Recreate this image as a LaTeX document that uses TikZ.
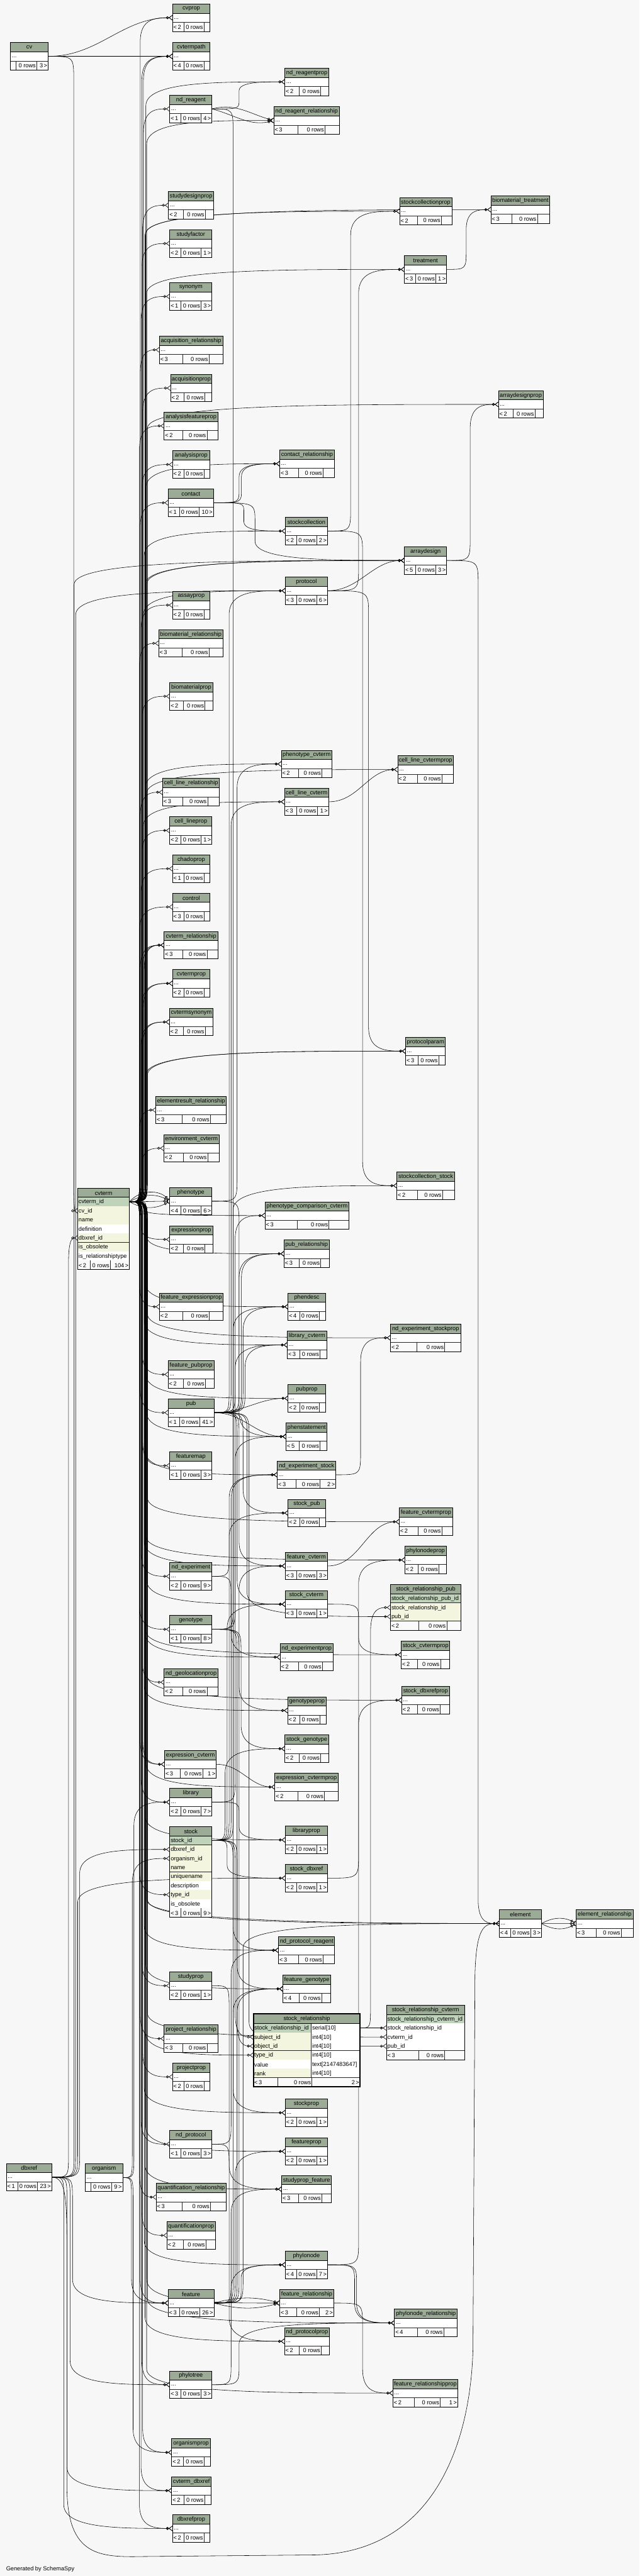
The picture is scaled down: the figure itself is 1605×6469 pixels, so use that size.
\documentclass[tikz,border=0pt]{standalone}
\usepackage{fontspec}
\setmainfont{Liberation Sans}
\usetikzlibrary{arrows.meta,calc}
\pgfdeclarelayer{bgl}
\pgfdeclarelayer{edges}
\pgfsetlayers{bgl,edges,main}
\definecolor{bgc}{HTML}{F7F7F7}
\definecolor{hdrc}{HTML}{9BAB96}
\definecolor{pkc}{HTML}{BFD2BA}
\definecolor{fkc}{HTML}{F3F5DE}
\definecolor{ftc}{HTML}{FAFAFA}
\tikzset{
  fk/.style={draw=black,line width=0.45pt,
    -{Circle[open,length=3.4pt,width=3.4pt,line width=0.5pt]Straight Barb[reversed,length=4pt,width=6pt,line width=0.5pt]}},
  tbox/.style={draw=black,line width=0.65pt},
  cellline/.style={draw=black!85,line width=0.45pt},
  hdrline/.style={draw=black,line width=0.5pt},
  ttl/.style={font=\fontsize{7.3}{8.5}\selectfont,inner sep=0pt},
  ftxt/.style={font=\fontsize{7.3}{8.5}\selectfont,inner sep=0pt},
  dots/.style={font=\fontsize{7.3}{8.5}\selectfont,inner sep=0pt,anchor=west},
}
% standard table: id, label, x1, y1, x2, parents, children
\newcommand\tb[7]{%
  \pgfmathsetmacro\tbW{#5-#3}%
  \if\relax\detokenize{#6}\relax\def\tbLb{12}\else\def\tbLb{28}\fi
  \if\relax\detokenize{#7}\relax\def\tbRb{15}\else\pgfmathsetmacro\tbRb{(#7<10)?27:((#7<100)?36:48)}\fi
  \pgfmathsetmacro\tbE{\tbW-\tbLb-50-\tbRb}%
  \pgfmathsetmacro\tbA{#3+\tbLb+0.45*\tbE}%
  \pgfmathsetmacro\tbB{\tbA+50+0.25*\tbE}%
  \fill[white] (#3,#4) rectangle (#5,#4+46);
  \fill[ftc] (#3,#4+46) rectangle (#5,#4+69);
  \fill[hdrc] (#3,#4) rectangle (#5,#4+23);
  \node[ttl] (#1) at ({(#3+#5)/2},#4+12) {#2};
  \node[dots] at (#3+3,#4+37) {...};
  \draw[cellline] (#3,#4+46) -- (#5,#4+46) (\tbA,#4+46) -- (\tbA,#4+69) (\tbB,#4+46) -- (\tbB,#4+69);
  \draw[hdrline] (#3,#4+23) -- (#5,#4+23);
  \draw[tbox] (#3,#4) rectangle (#5,#4+69);
  \if\relax\detokenize{#6}\relax\else\node[ftxt,anchor=west] at (#3+2,#4+58) {<\,#6};\fi
  \node[ftxt,anchor=east] at (\tbB-2,#4+58) {0 rows};
  \if\relax\detokenize{#7}\relax\else\node[ftxt,anchor=east] at (#5-2,#4+58) {#7\,>};\fi
  \coordinate (#1-w) at (#3,#4+34.5);
  \coordinate (#1-e) at (#5,#4+34.5);
}
% row of a detailed table: x1 x2 ytop ybot fill text
\newcommand\mcell[6]{%
  \fill[#5] (#1,#3) rectangle (#2,#4);
  \draw[cellline] (#1,#4) -- (#2,#4);
  \node[ftxt,anchor=west] at (#1+2,{(#3+#4)/2+1}) {#6};}
% header of a detailed table: id label x1 x2 ytop ybot
\newcommand\mhead[6]{%
  \fill[hdrc] (#3,#5) rectangle (#4,#6);
  \node[ttl] (#1) at ({(#3+#4)/2},{(#5+#6)/2+1}) {#2};}
% footer: x1 xa xb x2 ytop ybot parents children
\newcommand\mfoot[8]{%
  \fill[ftc] (#1,#5) rectangle (#4,#6);
  \draw[cellline] (#2,#5) -- (#2,#6) (#3,#5) -- (#3,#6);
  \node[ftxt,anchor=west] at (#1+2,{(#5+#6)/2+1}) {<\,#7};
  \node[ftxt,anchor=east] at (#3-2,{(#5+#6)/2+1}) {0 rows};
  \if\relax\detokenize{#8}\relax\else\node[ftxt,anchor=east] at (#4-2,{(#5+#6)/2+1}) {#8\,>};\fi}
% connector routed through a vertical channel at x = #1
\newcommand\fk[3]{%
  \draw[fk] let \p1=(#2), \p2=(#3), \n1={#1*0.5pt}, \n2={(\y2>\y1)*2-1}, \n3={min(30pt,abs(\y2-\y1)/3)} in
  (\p1) .. controls (\n1,\y1) .. (\n1,{\y1+(\n2)*\n3}) -- (\n1,{\y2-(\n2)*\n3})
  .. controls (\n1,\y2) and ({\n1+0.5*(\x2-\n1)},\y2) .. (\p2);}
\newcommand\fkd[2]{\draw[fk] (#1) to[out=0,in=180] (#2);}

\begin{document}
\begin{tikzpicture}[x=0.5pt,y=-0.5pt]
\begin{pgfonlayer}{bgl}
\fill[bgc] (0,0) rectangle (1605,6469);
\end{pgfonlayer}
\useasboundingbox (0,0) rectangle (1605,6469);

% ---------------- rank 0/1
\tb{cv}{cv}{26}{107}{121}{}{3}
\tb{dbxref}{dbxref}{16}{5433}{130}{1}{23}
\tb{organism}{organism}{214}{5434}{308}{}{9}
% cvterm
\fill[white] (195,2983.8) rectangle (325,3188.3);
\mhead{cvterm}{cvterm}{195}{325}{2983.8}{3006.5}
\mcell{195}{325}{3006.5}{3029.2}{pkc}{cvterm\_id}
\mcell{195}{325}{3029.2}{3052.0}{fkc}{cv\_id}
\mcell{195}{325}{3052.0}{3074.7}{fkc}{name}
\mcell{195}{325}{3074.7}{3097.4}{white}{definition}
\mcell{195}{325}{3097.4}{3120.1}{fkc}{dbxref\_id}
\mcell{195}{325}{3120.1}{3142.8}{fkc}{is\_obsolete}
\mcell{195}{325}{3142.8}{3165.6}{white}{is\_relationshiptype}
\mfoot{195}{226}{277}{325}{3165.6}{3188.3}{2}{104}
\draw[hdrline] (195,3006.5) -- (325,3006.5);
\draw[tbox] (195,2983.8) rectangle (325,3188.3);
\coordinate (cvterm-e) at (325,3017.85);
\coordinate (cvterm-cvid) at (195,3040.6);
\coordinate (cvterm-dbx) at (195,3108.75);

% ---------------- rank 2
\tb{cvprop}{cvprop}{433}{10}{527}{2}{}
\tb{cvtermpath}{cvtermpath}{433}{107}{527}{4}{}
\tb{ndreagent}{nd\_reagent}{426}{239}{532}{1}{4}
\tb{studydesignprop}{studydesignprop}{423}{481}{536}{2}{}
\tb{studyfactor}{studyfactor}{426}{577}{532}{2}{1}
\tb{synonym}{synonym}{426}{710}{532}{1}{3}
\tb{acquisitionrel}{acquisition\_relationship}{400}{844}{559}{3}{}
\tb{acquisitionprop}{acquisitionprop}{428}{940}{532}{2}{}
\tb{analysisfeatureprop}{analysisfeatureprop}{412}{1035}{547}{2}{}
\tb{analysisprop}{analysisprop}{433}{1132}{527}{2}{}
\tb{contact}{contact}{422}{1228}{536}{1}{10}
\tb{assayprop}{assayprop}{433}{1485}{527}{2}{}
\tb{biomaterialrel}{biomaterial\_relationship}{398}{1581}{560}{3}{}
\tb{biomaterialprop}{biomaterialprop}{426}{1714}{534}{2}{}
\tb{celllinerel}{cell\_line\_relationship}{408}{1955}{551}{3}{}
\tb{celllineprop}{cell\_lineprop}{426}{2051}{532}{2}{1}
\tb{chadoprop}{chadoprop}{433}{2147}{527}{1}{}
\tb{control}{control}{433}{2243}{527}{3}{}
\tb{cvtermrel}{cvterm\_relationship}{412}{2339}{547}{3}{}
\tb{cvtermprop}{cvtermprop}{433}{2435}{527}{2}{}
\tb{cvtermsynonym}{cvtermsynonym}{425}{2532}{535}{2}{}
\tb{elementresultrel}{elementresult\_relationship}{391}{2753}{568}{3}{}
\tb{envcvterm}{environment\_cvterm}{411}{2849}{550}{2}{}
\tb{phenotype}{phenotype}{426}{2982}{532}{4}{6}
\tb{expressionprop}{expressionprop}{426}{3078}{534}{2}{}
\tb{featexpprop}{feature\_expressionprop}{400}{3247}{560}{2}{}
\tb{featpubprop}{feature\_pubprop}{422}{3417}{537}{2}{}
\tb{pub}{pub}{422}{3513}{537}{1}{41}
\tb{featuremap}{featuremap}{426}{3646}{532}{1}{3}
\tb{ndexperiment}{nd\_experiment}{426}{3924}{532}{2}{9}
\tb{genotype}{genotype}{426}{4057}{532}{1}{8}
\tb{ndgeolocprop}{nd\_geolocationprop}{412}{4190}{547}{2}{}
\tb{expressioncvterm}{expression\_cvterm}{413}{4396}{543}{3}{1}
\tb{library}{library}{426}{4491}{532}{2}{7}
% stock
\fill[white] (426,4587.6) rectangle (532,4814.7);
\mhead{stock}{stock}{426}{532}{4587.6}{4610.3}
\mcell{426}{532}{4610.3}{4633.0}{pkc}{stock\_id}
\mcell{426}{532}{4633.0}{4655.7}{fkc}{dbxref\_id}
\mcell{426}{532}{4655.7}{4678.4}{fkc}{organism\_id}
\mcell{426}{532}{4678.4}{4701.2}{fkc}{name}
\mcell{426}{532}{4701.2}{4723.9}{fkc}{uniquename}
\mcell{426}{532}{4723.9}{4746.6}{white}{description}
\mcell{426}{532}{4746.6}{4769.3}{fkc}{type\_id}
\mcell{426}{532}{4769.3}{4792.0}{white}{is\_obsolete}
\mfoot{426}{454}{505}{532}{4792.0}{4814.7}{3}{9}
\draw[hdrline] (426,4610.3) -- (532,4610.3);
\draw[tbox] (426,4587.6) rectangle (532,4814.7);
\coordinate (stock-e) at (532,4621.65);
\coordinate (stock-dbx) at (426,4644.35);
\coordinate (stock-org) at (426,4667.05);
\coordinate (stock-type) at (426,4757.95);
\tb{studyprop}{studyprop}{426}{4952}{532}{2}{1}
\tb{projectrel}{project\_relationship}{412}{5085}{547}{3}{}
\tb{projectprop}{projectprop}{433}{5181}{527}{2}{}
\tb{ndprotocol}{nd\_protocol}{426}{5350}{532}{1}{3}
\tb{quantrel}{quantification\_relationship}{392}{5483}{568}{3}{}
\tb{quantprop}{quantificationprop}{419}{5579}{540}{2}{}
\tb{feature}{feature}{422}{5749}{537}{3}{26}
\tb{phylotree}{phylotree}{426}{5954}{532}{3}{3}
\tb{organismprop}{organismprop}{431}{6124}{528}{2}{}
\tb{cvtermdbxref}{cvterm\_dbxref}{431}{6220}{530}{2}{}
\tb{dbxrefprop}{dbxrefprop}{433}{6315}{527}{2}{}

% ---------------- rank 3
\tb{ndreagentprop}{nd\_reagentprop}{715}{171}{825}{2}{}
\tb{ndreagentrel}{nd\_reagent\_relationship}{687}{268}{852}{3}{}
\tb{contactrel}{contact\_relationship}{702}{1130}{839}{3}{}
\tb{stockcollection}{stockcollection}{716}{1299}{822}{2}{2}
\tb{protocol}{protocol}{716}{1449}{822}{3}{6}
\tb{phenotypecvterm}{phenotype\_cvterm}{706}{1884}{833}{2}{}
\tb{celllinecvterm}{cell\_line\_cvterm}{714}{1979}{825}{3}{1}
\tb{phencompcvterm}{phenotype\_comparison\_cvterm}{665}{3018}{876}{3}{}
\tb{pubrel}{pub\_relationship}{713}{3114}{826}{3}{}
\tb{phendesc}{phendesc}{723}{3247}{817}{4}{}
\tb{librarycvterm}{library\_cvterm}{721}{3343}{820}{3}{}
\tb{pubprop}{pubprop}{723}{3477}{817}{2}{}
\tb{phenstatement}{phenstatement}{718}{3573}{821}{5}{}
\tb{ndexpstock}{nd\_experiment\_stock}{696}{3669}{843}{3}{2}
\tb{stockpub}{stock\_pub}{723}{3765}{817}{2}{}
\tb{featurecvterm}{feature\_cvterm}{716}{3898}{822}{3}{3}
\tb{stockcvterm}{stock\_cvterm}{716}{3994}{822}{3}{1}
\tb{ndexperimentprop}{nd\_experimentprop}{703}{4127}{836}{2}{}
\tb{genotypeprop}{genotypeprop}{722}{4261}{819}{2}{}
\tb{stockgenotype}{stock\_genotype}{715}{4357}{825}{2}{}
\tb{expcvtermprop}{expression\_cvtermprop}{690}{4453}{849}{2}{}
\tb{libraryprop}{libraryprop}{716}{4586}{822}{2}{1}
\tb{stockdbxref}{stock\_dbxref}{716}{4682}{822}{2}{1}
\tb{ndprotocolreagent}{nd\_protocol\_reagent}{699}{4863}{840}{3}{}
\tb{featuregenotype}{feature\_genotype}{710}{4960}{830}{4}{}
% stock_relationship (focus table)
\fill[white] (636,5056.6) rectangle (904,5240.4);
\mhead{stockrel}{stock\_relationship}{636}{904}{5056.6}{5081.4}
\mcell{636}{781}{5081.4}{5104.1}{pkc}{stock\_relationship\_id}
\mcell{781}{904}{5081.4}{5104.1}{white}{serial[10]}
\mcell{636}{781}{5104.1}{5126.8}{fkc}{subject\_id}
\mcell{781}{904}{5104.1}{5126.8}{white}{int4[10]}
\mcell{636}{781}{5126.8}{5149.5}{fkc}{object\_id}
\mcell{781}{904}{5126.8}{5149.5}{white}{int4[10]}
\mcell{636}{781}{5149.5}{5172.3}{fkc}{type\_id}
\mcell{781}{904}{5149.5}{5172.3}{white}{int4[10]}
\mcell{636}{781}{5172.3}{5195.0}{white}{value}
\mcell{781}{904}{5172.3}{5195.0}{white}{text[2147483647]}
\mcell{636}{781}{5195.0}{5217.7}{fkc}{rank}
\mcell{781}{904}{5195.0}{5217.7}{white}{int4[10]}
\draw[cellline] (781,5081.4) -- (781,5217.7);
\mfoot{636}{697}{783}{904}{5217.7}{5240.4}{3}{2}
\draw[hdrline] (636,5081.4) -- (904,5081.4);
\draw[draw=black,line width=1.6pt] (636,5056.6) rectangle (904,5240.4);
\coordinate (sr-e) at (904,5092.75);
\coordinate (sr-subj) at (636,5115.45);
\coordinate (sr-obj) at (636,5138.15);
\coordinate (sr-type) at (636,5160.9);
\tb{stockprop}{stockprop}{716}{5271}{822}{2}{1}
\tb{featureprop}{featureprop}{716}{5368}{822}{2}{1}
\tb{studypropfeature}{studyprop\_feature}{707}{5463}{832}{3}{}
\tb{phylonode}{phylonode}{716}{5653}{822}{4}{7}
\tb{featurerel}{feature\_relationship}{702}{5749}{838}{3}{2}
\tb{ndprotocolprop}{nd\_protocolprop}{714}{5845}{827}{2}{}

% ---------------- rank 4
\tb{stockcollectionprop}{stockcollectionprop}{1003}{496}{1134}{2}{}
\tb{treatment}{treatment}{1015}{642}{1121}{3}{1}
\tb{arraydesign}{arraydesign}{1015}{1373}{1121}{5}{3}
\tb{celllinecvtermprop}{cell\_line\_cvtermprop}{998}{1898}{1138}{2}{}
\tb{protocolparam}{protocolparam}{1018}{2605}{1118}{3}{}
\tb{stockcollectionstock}{stockcollection\_stock}{996}{2943}{1141}{2}{}
\tb{ndexpstockprop}{nd\_experiment\_stockprop}{980}{3325}{1156}{2}{}
\tb{featurecvtermprop}{feature\_cvtermprop}{1002}{3787}{1136}{2}{}
\tb{phylonodeprop}{phylonodeprop}{1016}{3883}{1120}{2}{}
% stock_relationship_pub
\fill[white] (980,3979.4) rectangle (1157,4093.7);
\mhead{stockrelpub}{stock\_relationship\_pub}{980}{1157}{3979.4}{4002.1}
\mcell{980}{1157}{4002.1}{4025.2}{pkc}{stock\_relationship\_pub\_id}
\mcell{980}{1157}{4025.2}{4048.3}{fkc}{stock\_relationship\_id}
\mcell{980}{1157}{4048.3}{4071.0}{fkc}{pub\_id}
\mfoot{980}{1050}{1121}{1157}{4071.0}{4093.7}{2}{}
\draw[hdrline] (980,4002.1) -- (1157,4002.1);
\draw[tbox] (980,3979.4) rectangle (1157,4093.7);
\coordinate (srp-sr) at (980,4036.75);
\coordinate (srp-pub) at (980,4059.65);
\tb{stockcvtermprop}{stock\_cvtermprop}{1007}{4121}{1129}{2}{}
\tb{stockdbxrefprop}{stock\_dbxrefprop}{1008}{4235}{1128}{2}{}
% stock_relationship_cvterm
\fill[white] (970,5035.3) rectangle (1166,5172.3);
\mhead{stockrelcvterm}{stock\_relationship\_cvterm}{970}{1166}{5035.3}{5058.7}
\mcell{970}{1166}{5058.7}{5081.4}{pkc}{stock\_relationship\_cvterm\_id}
\mcell{970}{1166}{5081.4}{5104.1}{white}{stock\_relationship\_id}
\mcell{970}{1166}{5104.1}{5126.9}{white}{cvterm\_id}
\mcell{970}{1166}{5126.9}{5149.6}{white}{pub\_id}
\mfoot{970}{1050}{1116}{1166}{5149.6}{5172.3}{3}{}
\draw[hdrline] (970,5058.7) -- (1166,5058.7);
\draw[tbox] (970,5035.3) rectangle (1166,5172.3);
\coordinate (src-sr) at (970,5092.75);
\coordinate (src-cv) at (970,5115.5);
\coordinate (src-pub) at (970,5138.25);
\tb{phylonoderel}{phylonode\_relationship}{990}{5799}{1148}{4}{}
\tb{featurerelprop}{feature\_relationshipprop}{986}{5975}{1149}{2}{1}

% ---------------- rank 5/6
\tb{biomaterialtreatment}{biomaterial\_treatment}{1232}{492}{1380}{3}{}
\tb{arraydesignprop}{arraydesignprop}{1251}{981}{1363}{2}{}
\tb{element}{element}{1253}{4796}{1359}{4}{3}
\tb{elementrel}{element\_relationship}{1446}{4796}{1589}{3}{}

\node[ftxt,anchor=west] (gen) at (15,6451) {Generated by SchemaSpy};

% ================= connectors
\begin{pgfonlayer}{edges}
% cv
\fkd{cv-e}{cvprop-w}
\fkd{cv-e}{cvtermpath-w}
\fk{185}{cv-e}{cvterm-cvid}
% dbxref
\fk{172}{dbxref-e}{cvterm-dbx}
\fk{190}{dbxref-e}{protocol-w}
\fk{186}{dbxref-e}{arraydesign-w}
\fk{200}{dbxref-e}{stock-dbx}
\fk{195}{dbxref-e}{stockdbxref-w}
\fk{182}{dbxref-e}{feature-w}
\fk{176}{dbxref-e}{phylotree-w}
\fk{168}{dbxref-e}{cvtermdbxref-w}
\fk{160}{dbxref-e}{dbxrefprop-w}
\draw[fk] (dbxref-e) .. controls (165,5467) and (168,5520) .. (168,5650) -- (168,6250)
  .. controls (170,6420) and (250,6422) .. (360,6420) -- (790,6416)
  .. controls (1080,6410) and (1180,6150) .. (1187,5900) -- (1192,4960)
  .. controls (1195,4840) and (1215,4830.5) .. (element-w);
% organism
\fk{332}{organism-e}{stock-org}
\fk{336}{organism-e}{library-w}
\fk{330}{organism-e}{feature-w}
\fk{334}{organism-e}{organismprop-w}
% cvterm (upwards)
\fk{352}{cvterm-e}{cvprop-w}
\fk{356}{cvterm-e}{cvtermpath-w}
\fk{360}{cvterm-e}{cvtermpath-w}
\fk{366}{cvterm-e}{ndreagentprop-w}
\fk{360}{cvterm-e}{ndreagent-w}
\fk{368}{cvterm-e}{ndreagentrel-w}
\fk{358}{cvterm-e}{studydesignprop-w}
\fk{364}{cvterm-e}{stockcollectionprop-w}
\fk{366}{cvterm-e}{biomaterialtreatment-w}
\fk{356}{cvterm-e}{studyfactor-w}
\fk{368}{cvterm-e}{treatment-w}
\fk{354}{cvterm-e}{synonym-w}
\fk{352}{cvterm-e}{acquisitionrel-w}
\fk{358}{cvterm-e}{acquisitionprop-w}
\fk{370}{cvterm-e}{arraydesignprop-w}
\fk{350}{cvterm-e}{analysisfeatureprop-w}
\fk{356}{cvterm-e}{analysisprop-w}
\fk{366}{cvterm-e}{contactrel-w}
\fk{352}{cvterm-e}{contact-w}
\fk{362}{cvterm-e}{stockcollection-w}
\fk{368}{cvterm-e}{arraydesign-w}
\fk{364}{cvterm-e}{arraydesign-w}
\fk{360}{cvterm-e}{protocol-w}
\fk{354}{cvterm-e}{assayprop-w}
\fk{350}{cvterm-e}{biomaterialrel-w}
\fk{356}{cvterm-e}{biomaterialprop-w}
\fk{364}{cvterm-e}{phenotypecvterm-w}
\fk{368}{cvterm-e}{celllinecvtermprop-w}
\fk{352}{cvterm-e}{celllinerel-w}
\fk{360}{cvterm-e}{celllinecvterm-w}
\fk{356}{cvterm-e}{celllineprop-w}
\fk{354}{cvterm-e}{chadoprop-w}
\fk{350}{cvterm-e}{control-w}
\fk{358}{cvterm-e}{cvtermrel-w}
\fk{352}{cvterm-e}{cvtermrel-w}
\fk{362}{cvterm-e}{cvtermrel-w}
\fk{356}{cvterm-e}{cvtermprop-w}
\fk{360}{cvterm-e}{cvtermprop-w}
\fk{354}{cvterm-e}{cvtermsynonym-w}
\fk{358}{cvterm-e}{cvtermsynonym-w}
\fk{366}{cvterm-e}{protocolparam-w}
\fk{370}{cvterm-e}{protocolparam-w}
\fk{350}{cvterm-e}{elementresultrel-w}
\fk{356}{cvterm-e}{envcvterm-w}
\draw[fk] (cvterm-e) to[out=0,in=180] (phenotype-w);
\draw[fk] (cvterm-e) to[out=30,in=150] (phenotype-w);
\draw[fk] (cvterm-e) to[out=-30,in=210] (phenotype-w);
\draw[fk] (cvterm-e) to[out=50,in=130] (phenotype-w);
% cvterm (downwards)
\fk{366}{cvterm-e}{phencompcvterm-w}
\fk{354}{cvterm-e}{expressionprop-w}
\fk{368}{cvterm-e}{pubrel-w}
\fk{350}{cvterm-e}{featexpprop-w}
\fk{364}{cvterm-e}{phendesc-w}
\fk{370}{cvterm-e}{ndexpstockprop-w}
\fk{362}{cvterm-e}{librarycvterm-w}
\fk{356}{cvterm-e}{featpubprop-w}
\fk{366}{cvterm-e}{pubprop-w}
\fk{352}{cvterm-e}{pub-w}
\fk{368}{cvterm-e}{phenstatement-w}
\fk{358}{cvterm-e}{featuremap-w}
\fk{364}{cvterm-e}{ndexpstock-w}
\fk{370}{cvterm-e}{featurecvtermprop-w}
\fk{366}{cvterm-e}{phylonodeprop-w}
\fk{362}{cvterm-e}{featurecvterm-w}
\fk{354}{cvterm-e}{ndexperiment-w}
\fk{368}{cvterm-e}{stockcvterm-w}
\fk{350}{cvterm-e}{genotype-w}
\fk{366}{cvterm-e}{stockcvtermprop-w}
\fk{364}{cvterm-e}{ndexperimentprop-w}
\fk{356}{cvterm-e}{ndgeolocprop-w}
\fk{370}{cvterm-e}{stockdbxrefprop-w}
\fk{362}{cvterm-e}{genotypeprop-w}
\fk{352}{cvterm-e}{expressioncvterm-w}
\fk{358}{cvterm-e}{expressioncvterm-w}
\fk{366}{cvterm-e}{expcvtermprop-w}
\fk{354}{cvterm-e}{library-w}
\fk{364}{cvterm-e}{libraryprop-w}
\fk{350}{cvterm-e}{stock-type}
\fk{370}{cvterm-e}{element-w}
\fk{368}{cvterm-e}{elementrel-w}
\fk{362}{cvterm-e}{ndprotocolreagent-w}
\fk{356}{cvterm-e}{studyprop-w}
\fk{366}{cvterm-e}{featuregenotype-w}
\fk{370}{cvterm-e}{src-cv}
\fk{364}{cvterm-e}{sr-type}
\fk{352}{cvterm-e}{projectrel-w}
\fk{358}{cvterm-e}{projectprop-w}
\fk{362}{cvterm-e}{stockprop-w}
\fk{354}{cvterm-e}{ndprotocol-w}
\fk{366}{cvterm-e}{featureprop-w}
\fk{364}{cvterm-e}{studypropfeature-w}
\fk{350}{cvterm-e}{quantrel-w}
\fk{356}{cvterm-e}{quantprop-w}
\fk{362}{cvterm-e}{phylonode-w}
\fk{352}{cvterm-e}{feature-w}
\fk{368}{cvterm-e}{featurerel-w}
\fk{370}{cvterm-e}{phylonoderel-w}
\fk{364}{cvterm-e}{ndprotocolprop-w}
\fk{356}{cvterm-e}{phylotree-w}
\fk{368}{cvterm-e}{featurerelprop-w}
\fk{358}{cvterm-e}{organismprop-w}
\fk{354}{cvterm-e}{cvtermdbxref-w}
\fk{350}{cvterm-e}{dbxrefprop-w}
% nd_reagent
\fk{600}{ndreagent-e}{ndreagentprop-w}
\draw[fk] (ndreagent-e) to[out=15,in=165] (ndreagentrel-w);
\draw[fk] (ndreagent-e) to[out=-15,in=195] (ndreagentrel-w);
\fk{585}{ndreagent-e}{ndprotocolreagent-w}
% contact
\fk{600}{contact-e}{contactrel-w}
\fk{606}{contact-e}{contactrel-w}
\fk{612}{contact-e}{stockcollection-w}
\fk{640}{contact-e}{arraydesign-w}
% stockcollection, protocol, arraydesign, treatment
\fk{880}{stockcollection-e}{stockcollectionprop-w}
\fk{910}{stockcollection-e}{stockcollectionstock-w}
\fkd{protocol-e}{arraydesign-w}
\fk{900}{protocol-e}{treatment-w}
\fk{925}{protocol-e}{protocolparam-w}
\fk{1180}{arraydesign-e}{arraydesignprop-w}
\fk{1200}{arraydesign-e}{element-w}
\fk{1170}{treatment-e}{biomaterialtreatment-w}
\fkd{celllinecvterm-e}{celllinecvtermprop-w}
% phenotype
\fk{595}{phenotype-e}{phenotypecvterm-w}
\fk{600}{phenotype-e}{phenstatement-w}
% pub
\fk{575}{pub-e}{protocol-w}
\fk{580}{pub-e}{celllinecvterm-w}
\fk{590}{pub-e}{phencompcvterm-w}
\fk{600}{pub-e}{pubrel-w}
\fk{606}{pub-e}{pubrel-w}
\fk{610}{pub-e}{phendesc-w}
\fk{615}{pub-e}{librarycvterm-w}
\fkd{pub-e}{pubprop-w}
\fkd{pub-e}{phenstatement-w}
\fk{610}{pub-e}{stockpub-w}
\fk{600}{pub-e}{featurecvterm-w}
\fk{595}{pub-e}{stockcvterm-w}
\fk{620}{pub-e}{srp-pub}
\fk{625}{pub-e}{src-pub}
% genotype
\fk{585}{genotype-e}{phendesc-w}
\fk{590}{genotype-e}{phenstatement-w}
\fk{600}{genotype-e}{genotypeprop-w}
\fk{605}{genotype-e}{stockgenotype-w}
\fk{595}{genotype-e}{featuregenotype-w}
% nd_experiment, library
\fk{575}{ndexperiment-e}{ndexpstock-w}
\fk{580}{ndexperiment-e}{ndexperimentprop-w}
\fk{590}{library-e}{librarycvterm-w}
\fk{600}{library-e}{libraryprop-w}
% stock
\fk{585}{stock-e}{stockcollectionstock-w}
\fk{580}{stock-e}{ndexpstock-w}
\fk{575}{stock-e}{stockpub-w}
\fk{570}{stock-e}{stockcvterm-w}
\fk{565}{stock-e}{stockgenotype-w}
\fk{570}{stock-e}{stockdbxref-w}
\fk{590}{stock-e}{sr-subj}
\fk{595}{stock-e}{sr-obj}
\fk{585}{stock-e}{stockprop-w}
% misc
\fkd{expressioncvterm-e}{expcvtermprop-w}
\fk{575}{studyprop-e}{studypropfeature-w}
\fk{580}{ndprotocol-e}{ndprotocolreagent-w}
\fk{575}{ndprotocol-e}{ndprotocolprop-w}
% feature
\fk{600}{feature-e}{featurecvterm-w}
\fk{590}{feature-e}{featureprop-w}
\fk{585}{feature-e}{featuregenotype-w}
\fk{595}{feature-e}{featuregenotype-w}
\fk{580}{feature-e}{studypropfeature-w}
\fk{605}{feature-e}{phylonode-w}
\draw[fk] (feature-e) to[out=15,in=165] (featurerel-w);
\draw[fk] (feature-e) to[out=-15,in=195] (featurerel-w);
\fk{610}{feature-e}{element-w}
% phylo
\fk{580}{phylotree-e}{phylonode-w}
\fk{600}{phylotree-e}{phylonoderel-w}
\fk{900}{phylonode-e}{phylonodeprop-w}
\fk{890}{phylonode-e}{phylonoderel-w}
\fk{895}{phylonode-e}{phylonoderel-w}
\fk{910}{featurerel-e}{featurerelprop-w}
% rank 3 -> rank 4
\fkd{featurecvterm-e}{featurecvtermprop-w}
\fk{900}{stockcvterm-e}{stockcvtermprop-w}
\fk{900}{stockdbxref-e}{stockdbxrefprop-w}
\fk{905}{ndexpstock-e}{ndexpstockprop-w}
\draw[fk] (sr-e) -- (src-sr);
\fk{930}{sr-e}{srp-sr}
\draw[fk] (element-e) to[out=30,in=150] (elementrel-w);
\draw[fk] (element-e) to[out=-30,in=210] (elementrel-w);
\end{pgfonlayer}
\end{tikzpicture}
\end{document}
